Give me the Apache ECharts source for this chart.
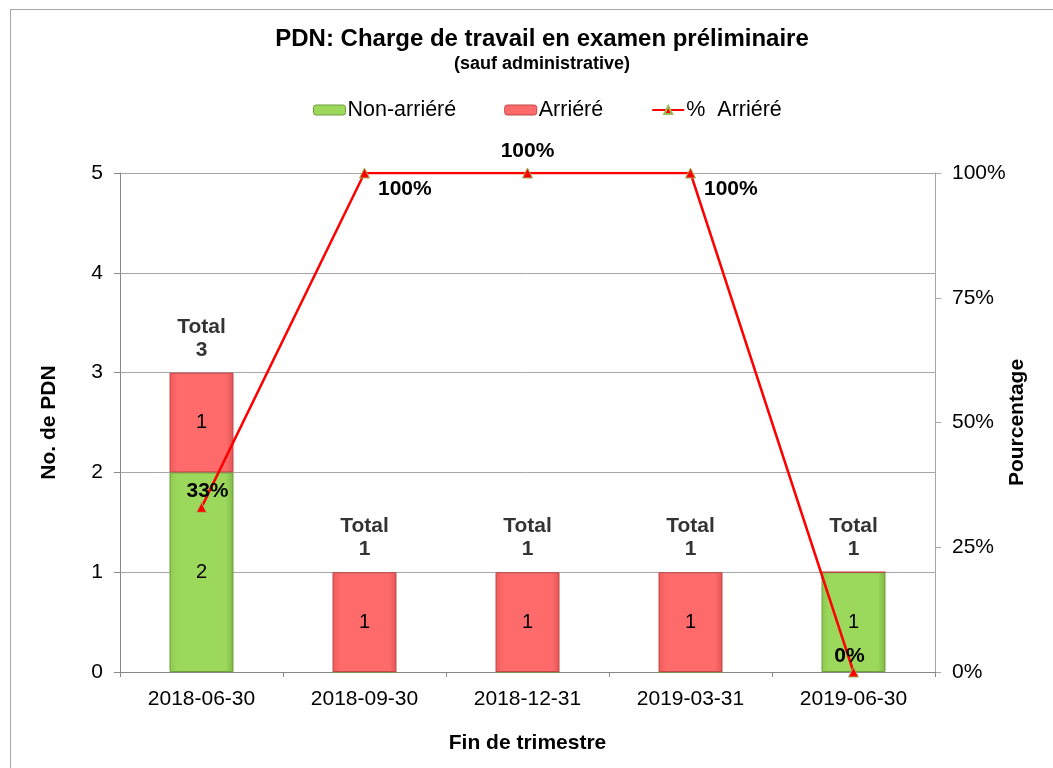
<!DOCTYPE html>
<html><head><meta charset="utf-8">
<script src="https://cdn.jsdelivr.net/npm/echarts@6/dist/echarts.min.js"></script>
<style>
html,body{margin:0;padding:0;background:#fff;overflow:hidden;}
#frame{position:absolute;left:10px;top:9px;width:1100px;height:820px;border:1px solid #a6a6a6;border-width:1px 0 0 1px;box-sizing:border-box;}
#chart{position:absolute;left:0;top:0;width:1053px;height:768px;}
</style>
</head><body>
<div id="frame"></div>
<div id="chart"></div>
<script>
const categories = ['2018-06-30','2018-09-30','2018-12-31','2019-03-31','2019-06-30'];
const nonArriere = [2, 0, 0, 0, 1];
const arriere = [1, 1, 1, 1, 0];
const pctArriere = [33, 100, 100, 100, 0];
const leftTicks = [0, 1, 2, 3, 4, 5];
const rightTicks = ['0%','25%','50%','75%','100%'];

const totals = categories.map((c, i) => nonArriere[i] + arriere[i]);
const pctLabelPos = [
  {position: 'top', offset: [6, 2], distance: 2},
  {position: 'right', offset: [4, 16], distance: 4},
  {position: 'top', offset: [0, 0], distance: 6},
  {position: 'right', offset: [4, 16], distance: 4},
  {position: 'top', offset: [-4, 2], distance: 2}
];

const chart = echarts.init(document.getElementById('chart'));
const font = 'Liberation Sans, Arial, sans-serif';
const greenGrad = new echarts.graphic.LinearGradient(0,0,1,0,[
  {offset:0,color:'#8cc94e'},{offset:0.12,color:'#9bd85c'},{offset:0.88,color:'#9bd85c'},{offset:1,color:'#7fb845'}]);
const redGrad = new echarts.graphic.LinearGradient(0,0,1,0,[
  {offset:0,color:'#ee5a5a'},{offset:0.12,color:'#ff6b6b'},{offset:0.88,color:'#ff6b6b'},{offset:1,color:'#e35555'}]);

chart.setOption({
  animation: false,
  textStyle: {fontFamily: font},
  title: [
    {text: 'PDN: Charge de travail en examen préliminaire', left: 537, top: 22, textAlign: 'center',
     textStyle: {fontSize: 24, fontWeight: 'bold', color: '#000', fontFamily: font}},
    {text: '(sauf administrative)', left: 537, top: 50, textAlign: 'center',
     textStyle: {fontSize: 18, fontWeight: 'bold', color: '#000', fontFamily: font}}
  ],
  legend: {
    top: 99, left: 313, padding: 0, itemGap: 48, itemWidth: 32, itemHeight: 10,
    textStyle: {fontSize: 21.5, color: '#000', fontFamily: font, padding: [0,0,0,-3]},
    data: [
      {name: 'Non-arriéré', itemStyle: {color: '#9bd85c', borderColor: '#6f9e3c', borderWidth: 1}},
      {name: 'Arriéré', itemStyle: {color: '#ff6b6b', borderColor: '#c04848', borderWidth: 1}},
      {name: '%  Arriéré'}
    ]
  },
  grid: {left: 120, right: 118, top: 173, bottom: 96},
  xAxis: {
    type: 'category', data: categories,
    name: 'Fin de trimestre', nameLocation: 'middle', nameGap: 61, nameMoveOverlap: false,
    nameTextStyle: {fontSize: 21, fontWeight: 'bold', color: '#000'},
    axisLine: {lineStyle: {color: '#888'}},
    axisTick: {show: true, length: 5, alignWithLabel: false, lineStyle: {color: '#888'}},
    axisLabel: {fontSize: 21, color: '#000', margin: 17}
  },
  yAxis: [
    {type: 'value', min: leftTicks[0], max: leftTicks[leftTicks.length-1], interval: 1,
     name: 'No. de PDN', nameLocation: 'middle', nameGap: 60, nameRotate: 90, nameMoveOverlap: false,
     nameTextStyle: {fontSize: 21, fontWeight: 'bold', color: '#000'},
     axisLine: {show: true, lineStyle: {color: '#888'}},
     axisTick: {show: true, length: 6, lineStyle: {color: '#888'}},
     axisLabel: {fontSize: 21, color: '#000', margin: 17},
     splitLine: {lineStyle: {color: '#a6a6a6'}}},
    {type: 'value', min: 0, max: 100, interval: 25,
     name: 'Pourcentage', nameLocation: 'middle', nameGap: 72, nameRotate: 90, nameMoveOverlap: false,
     nameTextStyle: {fontSize: 21, fontWeight: 'bold', color: '#000'},
     axisLine: {show: true, lineStyle: {color: '#a6a6a6'}},
     axisTick: {show: true, length: 6, lineStyle: {color: '#a6a6a6'}},
     axisLabel: {fontSize: 21, color: '#000', margin: 17,
       formatter: v => rightTicks[Math.round(v / 25)]},
     splitLine: {show: false}}
  ],
  series: [
    {name: 'Non-arriéré', type: 'bar', stack: 'pdn', barWidth: 64, data: nonArriere,
     itemStyle: {color: greenGrad, borderColor: '#6f9e3c', borderWidth: 1},
     label: {show: true, position: 'inside', fontSize: 20, color: '#000',
       formatter: p => p.value ? String(p.value) : ''}},
    {name: 'Arriéré', type: 'bar', stack: 'pdn', barWidth: 64, data: arriere,
     itemStyle: {color: redGrad, borderColor: '#c04848', borderWidth: 1},
     label: {show: true, position: 'inside', fontSize: 20, color: '#000',
       formatter: p => p.value ? String(p.value) : ''}},
    {name: 'Total', type: 'scatter', data: totals, symbolSize: 0, silent: true,
     label: {show: true, position: 'top', distance: 11, fontSize: 21, fontWeight: 'bold',
       color: '#000', lineHeight: 23, align: 'center', formatter: p => 'Total\n' + p.value}},
    {name: '%  Arriéré', type: 'line', yAxisIndex: 1, z: 5,
     data: pctArriere.map((v, i) => ({value: v, label: pctLabelPos[i]})),
     lineStyle: {color: '#ff0000', width: 2.5},
     itemStyle: {color: '#ff0000', borderColor: '#9bbb59', borderWidth: 1},
     symbol: 'triangle', symbolSize: 10,
     label: {show: true, fontSize: 21, fontWeight: 'bold', color: '#000',
       formatter: p => p.value + '%'}}
  ]
});
</script>
</body></html>
